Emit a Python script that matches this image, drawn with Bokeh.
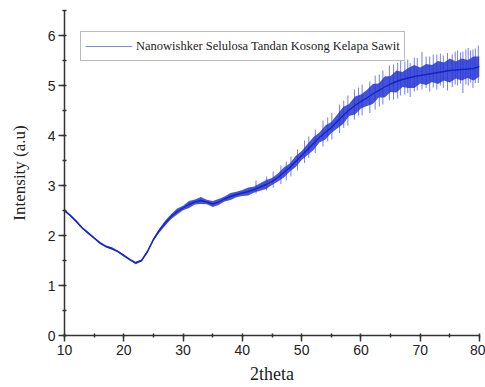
from bokeh.plotting import figure
from bokeh.models import Range1d, Legend, LegendItem, ColumnDataSource, SingleIntervalTicker
from bokeh.embed import file_html
from bokeh.resources import INLINE

# 2theta positions (degrees)
two_theta = list(range(10, 81))
# centre of the intensity trace
intensity = [2.50, 2.40, 2.28, 2.15, 2.05, 1.95, 1.85, 1.78, 1.74, 1.68,
             1.60, 1.52, 1.45, 1.50, 1.68, 1.92, 2.10, 2.25, 2.38, 2.48,
             2.55, 2.62, 2.67, 2.70, 2.67, 2.63, 2.67, 2.73, 2.78, 2.82,
             2.85, 2.88, 2.92, 2.97, 3.02, 3.08, 3.16, 3.26, 3.36, 3.48,
             3.60, 3.72, 3.84, 3.96, 4.06, 4.16, 4.28, 4.40, 4.51, 4.60,
             4.68, 4.75, 4.83, 4.90, 4.97, 5.03, 5.08, 5.12, 5.15, 5.18,
             5.20, 5.22, 5.24, 5.26, 5.28, 5.30, 5.31, 5.32, 5.33, 5.34,
             5.38]
# half-width of the dense noise core
noise = [0.025, 0.02, 0.025, 0.02, 0.025, 0.02, 0.025, 0.02, 0.025, 0.02, 0.025, 0.02,
         0.025, 0.02, 0.03, 0.03, 0.04, 0.05,
         0.05, 0.06, 0.045, 0.07, 0.05, 0.07, 0.045, 0.06,
         0.06, 0.05, 0.07, 0.055, 0.06, 0.08, 0.06, 0.075, 0.09, 0.07,
         0.08, 0.10, 0.08, 0.11, 0.09,
         0.11, 0.13, 0.10, 0.14, 0.11,
         0.14, 0.17, 0.12, 0.18, 0.14,
         0.16, 0.20, 0.14, 0.21, 0.16, 0.22, 0.15, 0.20, 0.23, 0.16,
         0.21, 0.17, 0.23, 0.18, 0.24, 0.17, 0.22, 0.18, 0.24, 0.20]
# individual noise spikes: position, lowest and highest excursion
spike_x = [42.3, 44.1, 45.2, 46.5, 47.4, 48.2, 49.3, 50.5, 51.2, 52.3, 53.6, 54.4,
           55.1, 56.4, 57.1, 57.8, 58.9, 59.6, 60.2, 61.5, 62.4, 63.1, 63.7, 64.8,
           65.5, 66.2, 66.7, 67.4, 67.9, 68.3, 69.0, 69.5, 70.3, 71.0, 71.6, 72.2,
           72.8, 73.4, 73.9, 74.6, 75.4, 75.9, 76.3, 76.8, 77.2, 77.7, 78.1, 78.5,
           78.9, 79.3, 79.8]
spike_lo = [2.84, 2.90, 2.96, 3.03, 3.10, 3.18, 3.30, 3.45, 3.55, 3.65, 3.78, 3.88,
            3.92, 4.05, 4.15, 4.20, 4.32, 4.40, 4.40, 4.45, 4.52, 4.58, 4.62, 4.70,
            4.72, 4.74, 4.80, 4.82, 4.85, 4.77, 4.88, 4.90, 4.92, 4.95, 4.88, 4.96,
            4.92, 5.00, 4.95, 4.90, 4.97, 5.02, 5.00, 5.04, 4.85, 5.02, 5.00, 5.06,
            4.95, 5.05, 5.05]
spike_hi = [3.10, 3.18, 3.28, 3.40, 3.48, 3.58, 3.72, 3.90, 3.98, 4.12, 4.30, 4.36,
            4.45, 4.62, 4.70, 4.80, 4.92, 4.96, 5.02, 5.08, 5.20, 5.22, 5.30, 5.40,
            5.42, 5.45, 5.50, 5.48, 5.52, 5.45, 5.56, 5.55, 5.67, 5.58, 5.58, 5.62,
            5.62, 5.64, 5.60, 5.65, 5.62, 5.68, 5.70, 5.66, 5.68, 5.72, 5.75, 5.70,
            5.72, 5.74, 5.80]
x_ticks_interval = 10
y_ticks_interval = 1
series_label = "Nanowishker Selulosa Tandan Kosong Kelapa Sawit"

lower = [c - h for c, h in zip(intensity, noise)]
upper = [c + h for c, h in zip(intensity, noise)]
src = ColumnDataSource(dict(x=two_theta, y=intensity, lo=lower, hi=upper))
spk = ColumnDataSource(dict(x=spike_x, lo=spike_lo, hi=spike_hi))

p = figure(width=485, height=387, output_backend="svg", toolbar_location=None,
           x_range=Range1d(10, 80), y_range=Range1d(0, 6.5),
           min_border_left=64, min_border_right=6, min_border_top=10, min_border_bottom=52)
p.outline_line_color = None
p.grid.visible = False
p.background_fill_color = "white"
p.border_fill_color = "white"

p.segment(x0="x", y0="lo", x1="x", y1="hi", source=spk,
          line_color="#3a4ad8", line_alpha=0.7, line_width=1)
p.varea(x="x", y1="lo", y2="hi", source=src, fill_color="#2535d2", fill_alpha=0.85)
p.line(x="x", y="y", source=src, line_color="#1424c4", line_width=1.4)
# legend key: a single-point line (draws nothing in the plot) styled like the reference key
key = p.line(x=two_theta[:1], y=intensity[:1], line_color="#7f88ea", line_width=1)

for ax, iv in ((p.xaxis[0], x_ticks_interval), (p.yaxis[0], y_ticks_interval)):
    ax.ticker = SingleIntervalTicker(interval=iv, num_minor_ticks=2)
    ax.axis_line_color = "#333333"
    ax.axis_line_width = 1.5
    ax.major_tick_line_color = "#333333"
    ax.minor_tick_line_color = "#333333"
    ax.major_tick_line_width = 1.5
    ax.minor_tick_line_width = 1.5
    ax.major_tick_in = 0
    ax.major_tick_out = 6
    ax.minor_tick_in = 2
    ax.minor_tick_out = 2
    ax.major_label_text_font = "Liberation Sans"
    ax.major_label_text_font_size = "14px"
    ax.major_label_text_color = "#222222"
    ax.axis_label_text_font = "Liberation Serif"
    ax.axis_label_text_font_style = "normal"
    ax.axis_label_text_color = "#222222"

p.xaxis.axis_label = "2theta"
p.xaxis.axis_label_text_font_size = "18px"
p.xaxis.major_label_standoff = 3
p.xaxis.axis_label_standoff = 6
p.yaxis.axis_label = "Intensity (a.u)"
p.yaxis.axis_label_text_font_size = "17px"
p.yaxis.major_label_standoff = 3
p.yaxis.axis_label_standoff = 16

legend = Legend(items=[LegendItem(label=series_label, renderers=[key])],
                location=(16, 274))
legend.border_line_color = "#777777"
legend.border_line_width = 1
legend.label_text_font = "Liberation Serif"
legend.label_text_font_size = "12.5px"
legend.label_text_color = "#222222"
legend.glyph_width = 47
legend.glyph_height = 20
legend.label_height = 20
legend.label_standoff = 4
legend.padding = 4
legend.margin = 0
legend.background_fill_alpha = 1
p.add_layout(legend)

open("out.html", "w").write(file_html(p, INLINE))
